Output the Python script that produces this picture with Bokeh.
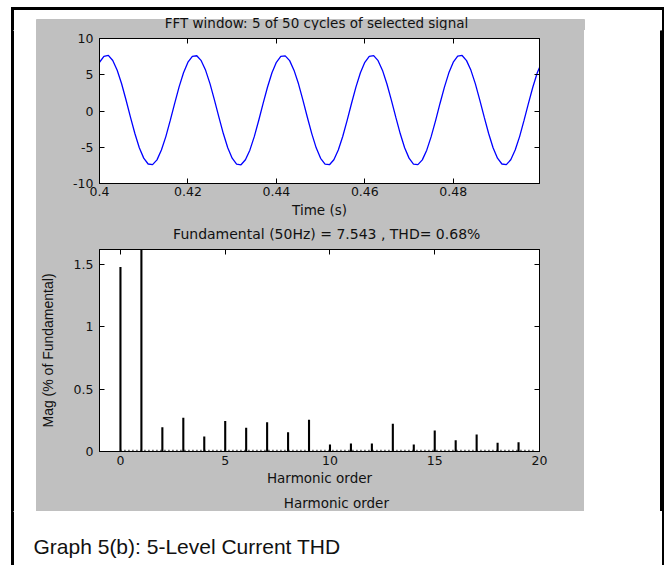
from bokeh.plotting import figure
from bokeh.layouts import column, row
from bokeh.models import Range1d, LinearAxis, FixedTicker, CustomJSTickFormatter, Label
from bokeh.embed import file_html
from bokeh.resources import INLINE

# ---------------- data ----------------
time_s = [
    0.400, 0.401, 0.402, 0.403, 0.404, 0.405, 0.406, 0.407, 0.408, 0.409,
    0.410, 0.411, 0.412, 0.413, 0.414, 0.415, 0.416, 0.417, 0.418, 0.419,
    0.420, 0.421, 0.422, 0.423, 0.424, 0.425, 0.426, 0.427, 0.428, 0.429,
    0.430, 0.431, 0.432, 0.433, 0.434, 0.435, 0.436, 0.437, 0.438, 0.439,
    0.440, 0.441, 0.442, 0.443, 0.444, 0.445, 0.446, 0.447, 0.448, 0.449,
    0.450, 0.451, 0.452, 0.453, 0.454, 0.455, 0.456, 0.457, 0.458, 0.459,
    0.460, 0.461, 0.462, 0.463, 0.464, 0.465, 0.466, 0.467, 0.468, 0.469,
    0.470, 0.471, 0.472, 0.473, 0.474, 0.475, 0.476, 0.477, 0.478, 0.479,
    0.480, 0.481, 0.482, 0.483, 0.484, 0.485, 0.486, 0.487, 0.488, 0.489,
    0.490, 0.491, 0.492, 0.493, 0.494, 0.495, 0.496, 0.497, 0.498, 0.499,
    0.500,
]
current_a = [
    6.72, 7.55, 7.68, 6.96, 5.62, 3.76, 1.52, -0.84, -3.10, -5.06,
    -6.50, -7.31, -7.40, -6.74, -5.39, -3.53, -1.30, 1.06, 3.32, 5.28,
    6.73, 7.54, 7.62, 6.94, 5.61, 3.74, 1.51, -0.85, -3.11, -5.07,
    -6.51, -7.33, -7.42, -6.73, -5.40, -3.54, -1.31, 1.05, 3.31, 5.27,
    6.71, 7.53, 7.61, 6.95, 5.60, 3.75, 1.50, -0.86, -3.12, -5.08,
    -6.52, -7.32, -7.41, -6.72, -5.38, -3.52, -1.29, 1.07, 3.32, 5.28,
    6.72, 7.54, 7.63, 6.94, 5.60, 3.73, 1.50, -0.85, -3.11, -5.07,
    -6.50, -7.32, -7.40, -6.74, -5.40, -3.54, -1.32, 1.04, 3.30, 5.26,
    6.73, 7.56, 7.66, 6.95, 5.61, 3.74, 1.51, -0.85, -3.10, -5.06,
    -6.51, -7.31, -7.40, -6.73, -5.39, -3.53, -1.30, 1.06, 3.31, 5.27,
    6.72,
]
time_ticks = [0.40, 0.42, 0.44, 0.46, 0.48]
current_ticks = [-10, -5, 0, 5, 10]

harmonic_order = [0, 1, 2, 3, 4, 5, 6, 7, 8, 9, 10, 11, 12, 13, 14, 15, 16, 17, 18, 19]
harmonic_mag = [1.48, 100.0, 0.195, 0.27, 0.12, 0.245, 0.19, 0.235, 0.155, 0.255,
                0.056, 0.065, 0.065, 0.222, 0.056, 0.168, 0.09, 0.137, 0.07, 0.074]
interharmonic_level = 0.006
order_ticks = [0, 5, 10, 15, 20]
mag_ticks = [0, 0.5, 1, 1.5]

top_title = "FFT window: 5 of 50 cycles of selected signal"
bottom_title = "Fundamental (50Hz) = 7.543 , THD= 0.68%"
x_label_time = "Time (s)"
x_label_order = "Harmonic order"
y_label_mag = "Mag (% of Fundamental)"
caption = "Graph 5(b): 5-Level Current THD"

# ---------------- styles ----------------
GRAY = "#c0c0c0"
UIFONT = "DejaVu Sans"
TXT = "#111111"

num_fmt = CustomJSTickFormatter(code="return String(Math.round(tick * 1000) / 1000);")
blank_fmt = CustomJSTickFormatter(code="return '';")


def style_axis(ax, ticks, labels=True, standoff=5):
    ax.ticker = FixedTicker(ticks=ticks)
    ax.major_tick_in = 5
    ax.major_tick_out = 0
    ax.minor_tick_line_color = None
    ax.axis_line_color = "black"
    ax.major_tick_line_color = "black"
    if labels:
        ax.formatter = num_fmt
        ax.major_label_text_font = UIFONT
        ax.major_label_text_font_size = "12.5px"
        ax.major_label_text_color = TXT
        ax.major_label_standoff = standoff
    else:
        ax.formatter = blank_fmt
        ax.major_label_text_font_size = "0px"
        ax.major_label_standoff = 0


def style_axis_label(ax, text, font=UIFONT, size="13.5px", standoff=3):
    ax.axis_label = text
    ax.axis_label_text_font = font
    ax.axis_label_text_font_size = size
    ax.axis_label_text_font_style = "normal"
    ax.axis_label_text_color = TXT
    ax.axis_label_standoff = standoff


def base_fig(w, h, xr, yr, **kw):
    f = figure(width=w, height=h, x_range=xr, y_range=yr, title=None,
               output_backend="svg", toolbar_location=None, **kw)
    f.grid.visible = False
    f.background_fill_color = "white"
    f.border_fill_color = GRAY
    f.outline_line_color = "black"
    f.outline_line_alpha = 1
    f.outline_line_width = 1
    return f


def strip(w, h, fill=None):
    # plain pixel-space figure used for page margins and text rows
    f = figure(width=w, height=h, x_range=Range1d(0, w), y_range=Range1d(h, 0),
               output_backend="svg", toolbar_location=None, title=None,
               x_axis_type=None, y_axis_type=None, min_border=0)
    f.grid.visible = False
    f.outline_line_color = None
    if fill is None:
        f.background_fill_alpha = 0
        f.border_fill_alpha = 0
    else:
        f.background_fill_color = fill
        f.border_fill_color = fill
    return f


def strip_text(x, y, text, size="14px", font=UIFONT, align="center"):
    return Label(x=x, y=y, text=text, text_font=font, text_font_size=size,
                 text_color=TXT, text_align=align, text_baseline="middle")


W = 664
MID_H = 481

# ---------------- top page strip (with first title) ----------------
top_strip = strip(W, 30)
top_strip.quad(left=[36], right=[584], top=[19], bottom=[30], color=GRAY)
top_strip.quad(left=[11], right=[664], top=[7], bottom=[9], color="black")
top_strip.quad(left=[11, 662], right=[13, 664], top=[7, 7], bottom=[30, 30], color="black")
top_strip.add_layout(strip_text(316, 22.5, top_title, size="13.5px"))

# ---------------- top subplot (frame 444 x 145) ----------------
pa = base_fig(548, 192, Range1d(0.4, 0.4995), Range1d(-10, 10),
              min_border_left=59, min_border_right=45,
              min_border_top=8, min_border_bottom=39)
pa.line(time_s, current_a, line_color="#0000ff", line_width=1.3)
style_axis(pa.xaxis[0], time_ticks, standoff=3)
style_axis(pa.yaxis[0], current_ticks, standoff=6)
style_axis_label(pa.xaxis[0], x_label_time, standoff=3)
ax_top = LinearAxis()
style_axis(ax_top, time_ticks, labels=False)
pa.add_layout(ax_top, "above")
ax_right = LinearAxis()
style_axis(ax_right, current_ticks, labels=False)
pa.add_layout(ax_right, "right")

# ---------------- title row of the spectrum ----------------
mid_strip = strip(548, 25, GRAY)
mid_strip.add_layout(strip_text(283, 11.5, bottom_title))

# ---------------- bottom subplot (frame 450 x 202) ----------------
pb = base_fig(548, 241, Range1d(-1, 20), Range1d(0, 1.62),
              min_border_left=60, min_border_right=38,
              min_border_top=2, min_border_bottom=37)
pb.vbar(x=harmonic_order, top=harmonic_mag, width=0.1, fill_color="black", line_color=None)
pb.line(x=[harmonic_order[0], harmonic_order[-1] + 0.8],
        y=[interharmonic_level, interharmonic_level],
        line_color="black", line_width=2, line_dash="1 3")
style_axis(pb.xaxis[0], order_ticks, standoff=4)
style_axis(pb.yaxis[0], mag_ticks, standoff=6)
style_axis_label(pb.xaxis[0], x_label_order, standoff=2)
style_axis_label(pb.yaxis[0], y_label_mag, font="Liberation Sans", size="14px", standoff=15)
bx_top = LinearAxis()
style_axis(bx_top, order_ticks, labels=False)
pb.add_layout(bx_top, "above")
bx_right = LinearAxis()
style_axis(bx_right, mag_ticks, labels=False)
pb.add_layout(bx_right, "right")

# ---------------- outer x label row ----------------
low_strip = strip(548, 23, GRAY)
low_strip.add_layout(strip_text(295, 14.5, x_label_order, size="13.5px"))

# ---------------- side and bottom page strips ----------------
left_strip = strip(36, MID_H)
left_strip.quad(left=[11], right=[13], top=[0], bottom=[MID_H], color="black")

right_strip = strip(80, MID_H)
right_strip.quad(left=[76], right=[78], top=[0], bottom=[MID_H], color="black")

bottom_strip = strip(W, 54)
bottom_strip.quad(left=[11, 662], right=[13, 664], top=[0, 0], bottom=[54, 54], color="black")
bottom_strip.add_layout(strip_text(33, 35, caption, size="21px",
                                   font="Liberation Sans", align="left"))

panel = column(pa, mid_strip, pb, low_strip, width=548, height=MID_H,
               styles={"background-color": GRAY, "gap": "0px"})
middle = row(left_strip, panel, right_strip, width=W, height=MID_H,
             styles={"gap": "0px", "overflow": "visible",
                     "box-shadow": "inset -2px 0 0 #000"})
page_bg = ("linear-gradient(#000, #000) 11px 7px / 2px calc(100% - 7px) no-repeat, "
           "linear-gradient(#000, #000) 662px 7px / 2px calc(100% - 7px) no-repeat, "
           "linear-gradient(#000, #000) 11px 7px / 653px 2px no-repeat, #ffffff")
layout = column(top_strip, middle, bottom_strip, width=W, height=565,
                styles={"background": page_bg, "gap": "0px", "overflow": "visible"})

open("out.html", "w").write(file_html(layout, INLINE))
